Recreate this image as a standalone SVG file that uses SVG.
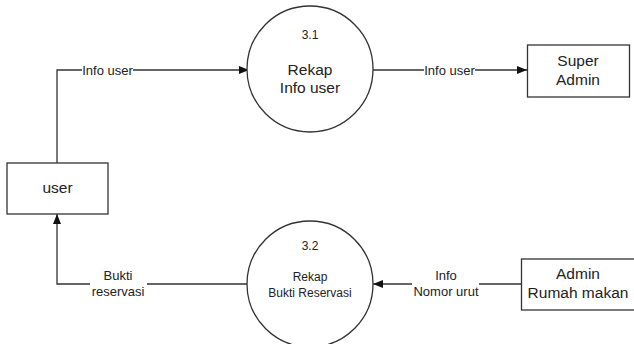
<svg xmlns="http://www.w3.org/2000/svg" width="634" height="344" viewBox="0 0 634 344">
<defs>
<style>
.shape{fill:#fff;stroke:#333;stroke-width:1.3}
.line{fill:none;stroke:#333;stroke-width:1.3}
text{font-family:"Liberation Sans",Arial,sans-serif;fill:#222;text-anchor:middle}
.big{font-size:15.5px}
.mid{font-size:15.5px}
.small{font-size:12px}
.lbl{font-size:13px}
.bg{fill:#fff;stroke:none}
</style>
<marker id="arr" viewBox="0 0 10 10" refX="10" refY="5" markerWidth="10" markerHeight="10" markerUnits="userSpaceOnUse" orient="auto">
<path d="M0,1 L10,5 L0,9 Z" fill="#111"/>
</marker>
</defs>
<rect width="634" height="344" fill="#fff"/>
<g id="connectors">
<path class="line" d="M57,163 V70 H249" marker-end="url(#arr)"/>
<rect class="bg" x="82" y="62" width="51" height="16"/>
<text class="lbl" x="107.5" y="75">Info user</text>
<path class="line" d="M373,70 H527" marker-end="url(#arr)"/>
<rect class="bg" x="424" y="62" width="51" height="16"/>
<text class="lbl" x="449.5" y="75">Info user</text>
<path class="line" d="M521,284 H373" marker-end="url(#arr)"/>
<rect class="bg" x="412" y="266" width="67" height="34"/>
<text class="lbl" x="446" y="280">Info</text>
<text class="lbl" x="446" y="296">Nomor urut</text>
<path class="line" d="M248,284 H57 V214" marker-end="url(#arr)"/>
<rect class="bg" x="90" y="266" width="57" height="34"/>
<text class="lbl" x="118" y="280">Bukti</text>
<text class="lbl" x="118" y="296">reservasi</text>
</g>
<g id="user">
<rect class="shape" x="7" y="163" width="101" height="51"/>
<text class="mid" x="57.5" y="193">user</text>
</g>
<g id="p31">
<circle class="shape" cx="310" cy="69" r="63"/>
<text class="small" x="310" y="39">3.1</text>
<text class="big" x="310" y="75">Rekap</text>
<text class="big" x="310" y="93">Info user</text>
</g>
<g id="p32">
<circle class="shape" cx="310" cy="284" r="63"/>
<text class="small" x="310" y="250">3.2</text>
<text class="small" x="310" y="281">Rekap</text>
<text class="small" x="310" y="297">Bukti Reservasi</text>
</g>
<g id="superadmin">
<rect class="shape" x="527.5" y="45" width="102" height="52"/>
<text class="big" x="578" y="66">Super</text>
<text class="big" x="578" y="85">Admin</text>
</g>
<g id="adminrm">
<rect class="shape" x="521.5" y="259" width="120" height="51"/>
<text class="big" x="578" y="279">Admin</text>
<text class="big" x="578" y="298">Rumah makan</text>
</g>
</svg>
